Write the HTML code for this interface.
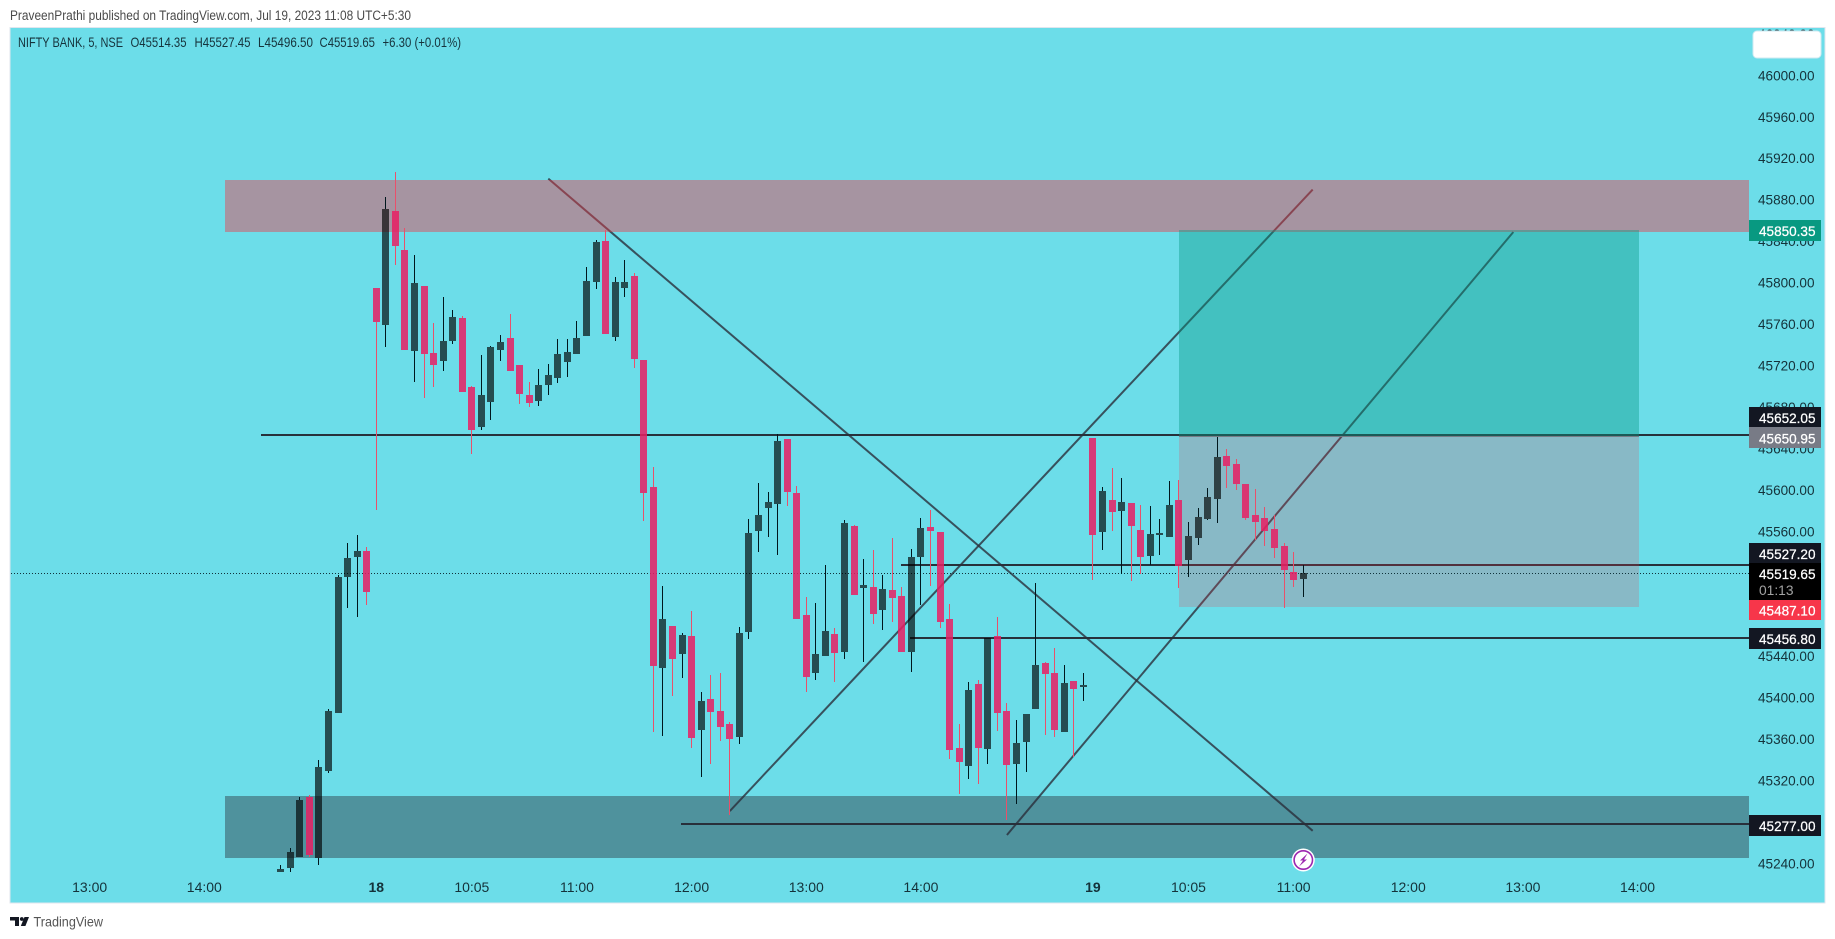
<!DOCTYPE html>
<html lang="en">
<head>
<meta charset="utf-8">
<title>NIFTY BANK 5 chart</title>
<style>
html,body{margin:0;padding:0;background:#fff;width:1835px;height:939px;overflow:hidden}
svg{display:block}
text{font-family:"Liberation Sans",sans-serif}
</style>
</head>
<body>
<svg id="chart" xmlns="http://www.w3.org/2000/svg" width="1835" height="939" viewBox="0 0 1835 939">
  <defs>
    <clipPath id="pane-clip"><rect x="11" y="28" width="1814" height="875"/></clipPath>
  </defs>
  <rect x="0" y="0" width="1835" height="939" fill="#ffffff"/>
  <text x="10" y="20" font-size="13.5" fill="#4a4a4a" textLength="401" lengthAdjust="spacingAndGlyphs">PraveenPrathi published on TradingView.com, Jul 19, 2023 11:08 UTC+5:30</text>
  <rect x="10" y="27.5" width="1815" height="875.5" fill="#6cdde9" stroke="#e0e6ee" stroke-width="1"/>

  <g id="lines-layer" clip-path="url(#pane-clip)"></g>
  <g id="zones-layer" clip-path="url(#pane-clip)"></g>
  <g id="last-price-layer"></g>
  <g id="candles-layer" clip-path="url(#pane-clip)"></g>
  <g id="price-ticks" clip-path="url(#pane-clip)"></g>
  <g id="time-ticks"></g>

  <g font-size="14" fill="#16333c">
    <text x="18" y="47" textLength="105" lengthAdjust="spacingAndGlyphs">NIFTY BANK, 5, NSE</text>
    <text x="130.5" y="47" textLength="56" lengthAdjust="spacingAndGlyphs">O45514.35</text>
    <text x="194.5" y="47" textLength="56" lengthAdjust="spacingAndGlyphs">H45527.45</text>
    <text x="258" y="47" textLength="55" lengthAdjust="spacingAndGlyphs">L45496.50</text>
    <text x="319.5" y="47" textLength="55.5" lengthAdjust="spacingAndGlyphs">C45519.65</text>
    <text x="382.5" y="47" textLength="78.5" lengthAdjust="spacingAndGlyphs">+6.30 (+0.01%)</text>
  </g>

  <rect x="1753" y="31" width="68" height="27" rx="4" fill="#ffffff" stroke="#cfeaf1" stroke-width="1"/>

  <g font-size="14" fill="#ffffff" stroke="#ffffff" stroke-width="0.25">
    <rect x="1749" y="220" width="72" height="21" fill="#089981" stroke="none"/>
    <text x="1759" y="236" textLength="56.5" lengthAdjust="spacingAndGlyphs">45850.35</text>
    <rect x="1749" y="407" width="72" height="20" fill="#131722" stroke="none"/>
    <text x="1759" y="423" textLength="56.5" lengthAdjust="spacingAndGlyphs">45652.05</text>
    <rect x="1749" y="427" width="72" height="21" fill="#787b86" stroke="none"/>
    <text x="1759" y="443.5" textLength="56.5" lengthAdjust="spacingAndGlyphs">45650.95</text>
    <rect x="1749" y="543" width="72" height="20" fill="#131722" stroke="none"/>
    <text x="1759" y="559" textLength="56.5" lengthAdjust="spacingAndGlyphs">45527.20</text>
    <rect x="1749" y="563" width="72" height="37" fill="#000000" stroke="none"/>
    <text x="1759" y="579" textLength="56.5" lengthAdjust="spacingAndGlyphs">45519.65</text>
    <text x="1759" y="595" fill="#a3a3a3" stroke="none" textLength="34.5" lengthAdjust="spacingAndGlyphs">01:13</text>
    <rect x="1749" y="600" width="72" height="20" fill="#f7364a" stroke="none"/>
    <text x="1759" y="615.5" textLength="56.5" lengthAdjust="spacingAndGlyphs">45487.10</text>
    <rect x="1749" y="628" width="72" height="21" fill="#131722" stroke="none"/>
    <text x="1759" y="644" textLength="56.5" lengthAdjust="spacingAndGlyphs">45456.80</text>
    <rect x="1749" y="815" width="72" height="21" fill="#131722" stroke="none"/>
    <text x="1759" y="831" textLength="56.5" lengthAdjust="spacingAndGlyphs">45277.00</text>
  </g>

  <g>
    <circle cx="1303.3" cy="860" r="11.5" fill="#ffffff"/>
    <circle cx="1303.3" cy="860" r="9.2" fill="#ffffff" stroke="#9c27b0" stroke-width="1.6"/>
    <polygon points="1307.5,853.5 1300,860.5 1303,860.5 1299,866.5 1307,859.5 1304,859.5" fill="#9c27b0"/>
  </g>

  <g>
    <path d="M10 917h9v9h-4v-5.5h-5z" fill="#131722"/>
    <circle cx="21.8" cy="919" r="1.9" fill="#131722"/>
    <polygon points="24.5,917 29,917 25.4,926 20.8,926" fill="#131722"/>
    <text x="33.5" y="926.5" font-size="14" fill="#555555" textLength="69.5" lengthAdjust="spacingAndGlyphs">TradingView</text>
  </g>
</svg>

<script>
// Bar data: first entry is bar index firstBar; index 0 = 18th 09:15, index 75 = 19th 09:15.
var firstBar = -10;
var opens = [
45231.6,45235.4,45246.0,45303.9,45245.1,45329.0,45384.9,45516.1,45535.4,45541.2,
45794.9,45759.2,45869.1,45831.5,45734.1,45796.8,45732.1,45724.4,45743.7,45765.9,
45699.4,45660.8,45684.9,45735.0,45746.6,45720.6,45691.6,45685.9,45701.3,45708.0,
45723.5,45731.2,45748.5,45800.6,45840.2,45747.6,45794.9,45806.4,45725.4,45602.9,
45428.3,45468.8,45441.8,45459.2,45368.5,45398.4,45386.9,45374.3,45361.8,45463.1,
45560.5,45582.7,45586.5,45649.2,45597.1,45479.5,45423.5,45439.9,45461.1,45443.8,
45565.3,45505.5,45506.5,45484.3,45503.6,45497.8,45443.8,45535.4,45564.3,45559.5,
45475.6,45351.2,45333.8,45413.0,45350.2,45459.2,45386.9,45335.8,45356.9,45388.8,
45433.2,45423.5,45366.6,45415.8,45410.0,45650.2,45559.5,45590.4,45579.8,45587.5,
45561.4,45536.4,45556.6,45554.7,45590.4,45532.3,45553.7,45572.0,45591.3,45632.8,
45625.1,45605.8,45575.9,45573.0,45562.4,45546.0,45520.9,45514.35];
var highs = [
45238.3,45254.7,45303.9,45305.8,45339.6,45388.8,45518.0,45548.9,45556.6,45545.0,
45794.9,45882.6,45906.7,45852.7,45826.7,45796.8,45761.1,45786.2,45773.6,45767.9,
45700.3,45730.2,45738.9,45749.5,45769.8,45720.6,45704.2,45716.7,45721.5,45745.7,
45745.7,45763.0,45815.1,45841.2,45850.8,45805.5,45821.8,45809.3,45725.4,45622.2,
45507.4,45468.8,45462.1,45483.3,45405.2,45421.6,45423.5,45376.3,45467.9,45572.0,
45606.8,45598.1,45654.0,45649.2,45603.9,45496.8,45491.0,45527.7,45466.9,45571.0,
45566.2,45533.2,45542.1,45518.0,45553.7,45506.5,45543.1,45573.0,45580.7,45559.5,
45490.0,45374.3,45414.9,45416.8,45457.3,45477.5,45394.5,45378.2,45384.0,45510.3,
45434.1,45447.6,45431.2,45415.8,45423.5,45650.2,45602.9,45621.2,45611.6,45587.5,
45585.6,45584.6,45572.0,45608.7,45609.7,45569.1,45582.7,45602.0,45651.1,45639.6,
45629.9,45605.8,45601.0,45583.6,45575.9,45548.9,45540.2,45527.45];
var lows = [
45231.6,45231.6,45246.0,45246.0,45238.3,45327.1,45384.9,45486.2,45477.5,45489.1,
45580.7,45738.0,45817.0,45735.0,45704.2,45688.8,45699.4,45714.8,45740.8,45694.5,
45634.7,45657.9,45667.5,45724.4,45714.8,45683.0,45680.1,45681.0,45691.6,45703.2,
45709.0,45731.2,45748.5,45793.9,45750.5,45743.7,45786.2,45717.7,45570.1,45366.6,
45362.7,45401.3,45418.7,45351.2,45323.2,45335.8,45357.9,45286.6,45355.0,45456.3,
45540.2,45554.7,45537.3,45584.6,45475.6,45405.2,45416.8,45439.9,45414.9,45437.0,
45498.8,45434.1,45470.8,45465.0,45472.7,45443.8,45424.5,45489.1,45507.4,45466.9,
45340.6,45306.8,45321.3,45316.5,45335.8,45367.5,45281.7,45297.2,45328.0,45388.8,
45363.7,45361.8,45366.6,45342.5,45396.5,45513.2,45542.1,45560.5,45519.0,45512.2,
45519.0,45527.7,45537.3,45554.7,45505.5,45516.1,45547.0,45571.0,45568.2,45602.0,
45600.0,45571.0,45551.8,45546.0,45534.4,45486.2,45506.5,45496.5];
var closes = [
45234.5,45250.9,45301.0,45248.0,45332.9,45386.9,45516.1,45534.4,45541.2,45501.6,
45762.1,45871.0,45835.4,45735.0,45799.7,45731.2,45720.6,45743.7,45766.9,45694.5,
45657.9,45691.6,45738.0,45742.8,45714.8,45692.6,45683.9,45701.3,45710.9,45731.2,
45733.1,45746.6,45801.6,45839.2,45750.5,45800.6,45800.6,45726.4,45597.1,45430.3,
45475.6,45437.0,45460.2,45360.8,45396.5,45385.9,45371.4,45359.9,45462.1,45558.6,
45575.9,45588.4,45647.3,45598.1,45475.6,45419.7,45441.8,45464.0,45442.8,45568.2,
45498.8,45508.4,45480.4,45504.5,45495.9,45443.8,45535.4,45563.4,45560.5,45472.7,
45349.2,45337.7,45407.1,45351.2,45457.3,45384.9,45334.8,45356.0,45384.0,45431.2,
45422.6,45368.5,45413.9,45408.1,45411.9,45556.6,45599.1,45578.8,45588.4,45565.3,
45535.4,45557.6,45558.6,45585.6,45526.7,45555.6,45574.0,45593.0,45631.8,45623.2,
45605.8,45573.0,45569.1,45560.5,45544.1,45522.8,45513.2,45519.65];

// Axis ticks
var priceTicks = [46040,46000,45960,45920,45880,45840,45800,45760,45720,45680,45640,45600,45560,45440,45400,45360,45320,45240];
var timeTickBars = [-30,-18,0,10,21,33,45,57,75,85,96,108,120,132];
var timeTickLabels = ["13:00","14:00","18","10:05","11:00","12:00","13:00","14:00","19","10:05","11:00","12:00","13:00","14:00"];

// Horizontal levels: price and the bar they start from
var levelPrices = [45652.05,45527.20,45456.80,45277.00];
var levelStartBars = [-12.1,54.9,55.9,31.9];
var lastPrice = 45519.65;

// Trend lines: bar/price end points
var trendStartBars = [18,37,66];
var trendStartPrices = [45900.3,45290.4,45267.3];
var trendEndBars = [98,98,119];
var trendEndPrices = [45271.3,45889.8,45848.9];

// Supply / demand zones
var supplyZone = [45899.0,45848.9];
var demandZone = [45304.9,45245.1];
var zoneStartBar = -15.83;

// Long position tool
var positionStartBar = 84;
var positionEndBar = 132.1;
var targetPrice = 45850.35;
var entryPrice = 45650.95;
var stopPrice = 45487.10;

var plotRightEdge = 1749;
var NS = 'http://www.w3.org/2000/svg';

function xOfBar(i){ return 376.3 + 9.555 * i; }
function yOfPrice(p){ return 75.3 + (46000 - p) * 1.0368; }

function make(tag, parent, attrs){
  var el = document.createElementNS(NS, tag);
  for (var k in attrs) el.setAttribute(k, attrs[k]);
  parent.appendChild(el);
  return el;
}

var linesLayer = document.getElementById('lines-layer');
var zonesLayer = document.getElementById('zones-layer');
var lastLayer = document.getElementById('last-price-layer');
var candlesLayer = document.getElementById('candles-layer');
var priceTickLayer = document.getElementById('price-ticks');
var timeTickLayer = document.getElementById('time-ticks');

levelPrices.forEach(function(p, n){
  var x0 = Math.round(xOfBar(levelStartBars[n]));
  var el = make('rect', linesLayer, {x:x0, y:Math.floor(yOfPrice(p) - 1.3), width:plotRightEdge - x0, height:2, fill:'#27313b'});
  
  
});

trendStartBars.forEach(function(b, n){
  var el = make('line', linesLayer, {
    x1:xOfBar(b), y1:yOfPrice(trendStartPrices[n]),
    x2:xOfBar(trendEndBars[n]), y2:yOfPrice(trendEndPrices[n]),
    stroke:'#2a2e39', 'stroke-width':2, 'stroke-opacity':0.8
  });
  
  
});

function zoneRect(x0, x1, p0, p1, fill){
  var top = Math.round(yOfPrice(p0));
  var bottom = Math.round(yOfPrice(p1));
  return make('rect', zonesLayer, {x:x0, y:top, width:x1 - x0, height:bottom - top, fill:fill});
}

var zoneLeft = Math.round(xOfBar(zoneStartBar));
var supplyRect = zoneRect(zoneLeft, plotRightEdge, supplyZone[0], supplyZone[1], 'rgba(242,54,69,0.44)');


var demandRect = zoneRect(zoneLeft, plotRightEdge, demandZone[0], demandZone[1], 'rgba(42,46,57,0.43)');



var posLeft = Math.round(xOfBar(positionStartBar));
var posRight = Math.round(xOfBar(positionEndBar));
var profitRect = zoneRect(posLeft, posRight, targetPrice, entryPrice, 'rgba(8,153,129,0.4)');


var lossRect = zoneRect(posLeft, posRight, entryPrice, stopPrice, 'rgba(242,54,69,0.21)');


var entryRect = make('rect', zonesLayer, {x:posLeft, y:Math.round(yOfPrice(entryPrice)) - 1, width:posRight - posLeft, height:1, fill:'#787b86'});



var dotted = make('line', lastLayer, {
  x1:11, x2:plotRightEdge,
  y1:Math.round(yOfPrice(lastPrice)) + 0.5, y2:Math.round(yOfPrice(lastPrice)) + 0.5,
  stroke:'#10323a', 'stroke-width':1, 'stroke-dasharray':'1 2'
});



closes.forEach(function(c, n){
  var bar = firstBar + n;
  var o = opens[n];
  var up = c >= o;
  var left = Math.round(xOfBar(bar) - 3.5);
  var top = Math.round(yOfPrice(Math.max(o, c)));
  var bottom = Math.round(yOfPrice(Math.min(o, c)));
  if (bottom - top < 2) bottom = top + 2;
  var hi = Math.round(yOfPrice(highs[n]));
  var lo = Math.round(yOfPrice(lows[n]));
  var wickColor = up ? '#00171d' : '#e9506b';
  if (hi < top) {
    var upper = make('rect', candlesLayer, {x:left + 3, y:hi, width:1, height:top - hi, fill:wickColor, 'shape-rendering':'crispEdges'});
    
    
  }
  if (lo > bottom) {
    var lower = make('rect', candlesLayer, {x:left + 3, y:bottom, width:1, height:lo - bottom, fill:wickColor, 'shape-rendering':'crispEdges'});
    
    
  }
  var body = make('rect', candlesLayer, {
    x:left, y:top, width:7, height:bottom - top,
    fill: up ? 'rgba(0,0,0,0.65)' : 'rgba(233,30,99,0.85)',
    'shape-rendering':'crispEdges'
  });
  
  
});

priceTicks.forEach(function(p){
  var t = make('text', priceTickLayer, {x:1758, y:yOfPrice(p) + 5, 'font-size':14, fill:'#14323a', textLength:56.5, lengthAdjust:'spacingAndGlyphs'});
  t.textContent = p.toFixed(2);
  
  
});

timeTickBars.forEach(function(b, n){
  var label = timeTickLabels[n];
  var t = make('text', timeTickLayer, {x:xOfBar(b), y:892, 'font-size':14, fill:'#14323a', 'text-anchor':'middle', 'font-weight': label.length === 2 ? 'bold' : 'normal'});
  t.textContent = label;
  
  
});
</script>
</body>
</html>
